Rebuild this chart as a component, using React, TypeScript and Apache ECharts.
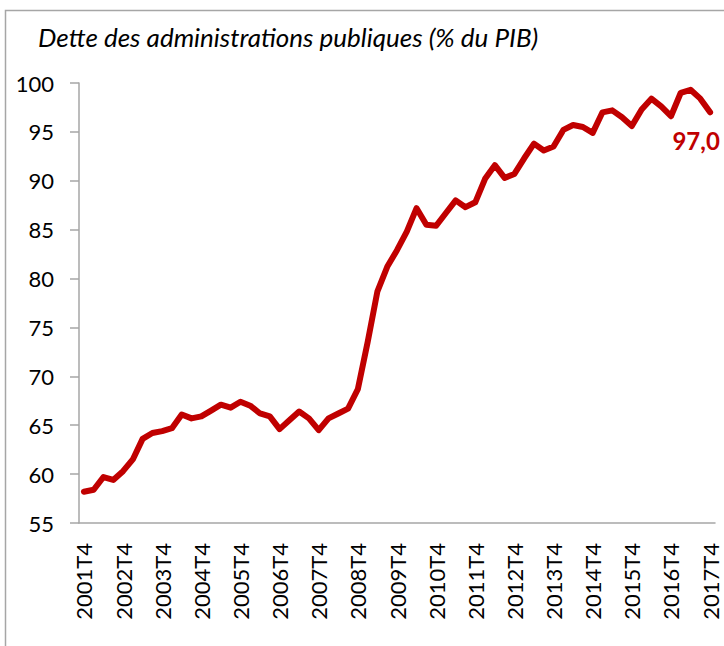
import React, { useEffect, useRef } from "react";
import * as echarts from "echarts";

const startYear = 2001;
const endYear = 2017;
// Quarterly categories from 2001T4 to 2017T4
const categories: string[] = [];
for (let y = startYear; y <= endYear; y++) {
  for (let q = 1; q <= 4; q++) {
    if ((y === startYear && q < 4) || (y === endYear && q > 4)) continue;
    categories.push(`${y}T${q}`);
  }
}

const debtValues: number[] = [
  58.2, 58.4, 59.7, 59.4, 60.3, 61.5, 63.6, 64.2, 64.4, 64.7,
  66.1, 65.7, 65.9, 66.5, 67.1, 66.8, 67.4, 67.0, 66.2, 65.9,
  64.6, 65.5, 66.4, 65.7, 64.5, 65.7, 66.2, 66.7, 68.7, 73.5,
  78.7, 81.2, 82.9, 84.8, 87.2, 85.5, 85.4, 86.7, 88.0, 87.3,
  87.8, 90.2, 91.6, 90.3, 90.7, 92.3, 93.8, 93.1, 93.5, 95.2,
  95.7, 95.5, 94.9, 97.0, 97.2, 96.5, 95.6, 97.3, 98.4, 97.6,
  96.6, 99.0, 99.3, 98.4, 97.0,
];

const yMin = 55;
const yMax = 100;
const yStep = 5;
const titleText = "Dette des administrations publiques (% du PIB)";

export default function App() {
  const ref = useRef<HTMLDivElement>(null);
  useEffect(() => {
    if (!ref.current) return;
    const chart = echarts.init(ref.current, null, { renderer: "svg" });
    const last = debtValues.length - 1;
    const seriesData = debtValues.map((v, i) =>
      i === last
        ? {
            value: v,
            label: {
              show: true,
              position: "bottom",
              offset: [-14, 11],
              formatter: (p: any) => Number(p.value).toFixed(1).replace(".", ","),
              color: "#c00000",
              fontFamily: "Lato",
              fontWeight: "bold",
              fontSize: 24,
            },
          }
        : v
    );
    chart.setOption({
      animation: false,
      backgroundColor: "#ffffff",
      graphic: [
        {
          type: "rect",
          shape: { x: 5.5, y: 10.5, width: 1000, height: 1000 },
          style: { fill: "none", stroke: "#a6a6a6", lineWidth: 1.5 },
          silent: true,
        },
        {
          type: "text",
          left: 38,
          top: 24,
          style: {
            text: titleText,
            fontFamily: "Lato",
            fontStyle: "italic",
            fontSize: 26,
            fill: "#000000",
          },
        },
      ],
      grid: { left: 79, right: 9, top: 83, bottom: 123, containLabel: false },
      xAxis: {
        type: "category",
        data: categories,
        boundaryGap: true,
        axisLine: { show: true, lineStyle: { color: "#a6a6a6", width: 1.5 } },
        axisTick: { show: false },
        axisLabel: {
          interval: 3,
          rotate: 90,
          margin: 20,
          fontFamily: "Lato",
          fontSize: 22,
          color: "#000000",
        },
        splitLine: { show: false },
      },
      yAxis: {
        type: "value",
        min: yMin,
        max: yMax,
        interval: yStep,
        axisLine: { show: true, lineStyle: { color: "#a6a6a6", width: 1.5 } },
        axisTick: { show: true, length: 9, lineStyle: { color: "#a6a6a6", width: 1.5 } },
        axisLabel: {
          margin: 25,
          fontFamily: "Lato",
          fontSize: 22,
          color: "#000000",
        },
        splitLine: { show: false },
      },
      series: [
        {
          type: "line",
          data: seriesData,
          showSymbol: true,
          symbol: "circle",
          symbolSize: 0,
          lineStyle: { color: "#c00000", width: 6, join: "round", cap: "round" },
          itemStyle: { color: "#c00000" },
        },
      ],
    });
    return () => chart.dispose();
  }, []);
  return (
    <div
      ref={ref}
      style={{ position: "absolute", left: 0, top: 0, width: 724, height: 646 }}
    />
  );
}
